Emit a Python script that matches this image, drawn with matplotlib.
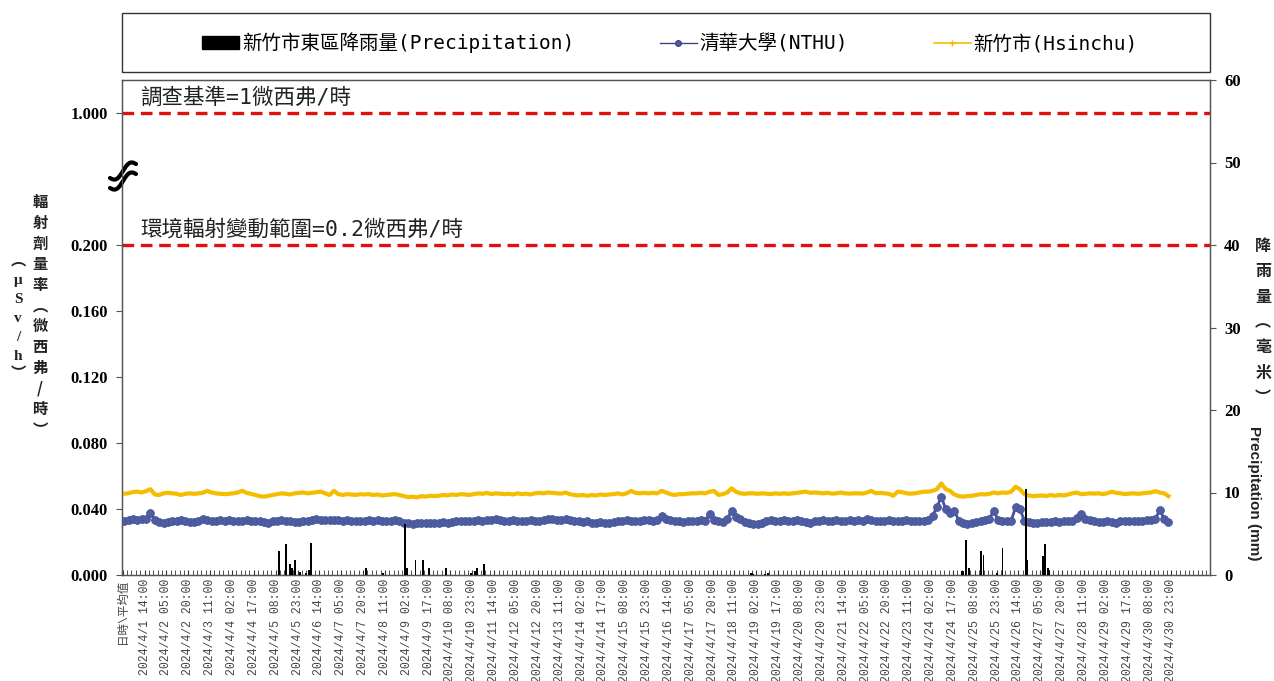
import numpy as np
import matplotlib
matplotlib.use("Agg")
import matplotlib.pyplot as plt
from matplotlib.lines import Line2D
from matplotlib.patches import Patch, Rectangle, Polygon

plt.rcParams['font.family'] = ['Noto Sans CJK TC', 'DejaVu Sans']

# ---- data ----
# dose rate every 3 hours from 2024/4/1 00:00, in 0.001 uSv/h, one row per day
nthu_milli = [
    33.0, 33.3, 34.0, 33.5, 33.8, 34.2, 37.5, 33.5,
    32.0, 31.8, 32.2, 32.8, 33.0, 33.3, 32.6, 32.2,
    32.0, 33.0, 33.8, 33.3, 33.0, 32.8, 33.2, 33.0,
    33.5, 33.0, 32.6, 33.0, 33.4, 33.0, 32.5, 32.8,
    32.2, 31.8, 32.5, 33.0, 33.5, 33.0, 32.6, 32.2,
    32.0, 32.5, 33.0, 33.5, 33.8, 33.2, 33.6, 33.3,
    33.5, 33.2, 33.0, 33.4, 33.0, 32.6, 33.0, 32.8,
    33.2, 32.8, 33.3, 33.0, 32.6, 33.0, 33.2, 32.5,
    31.8, 31.5, 31.2, 31.6, 31.4, 31.8, 31.5, 31.3,
    31.6, 32.0, 31.8, 32.2, 32.6, 32.8, 32.5, 32.8,
    33.0, 33.3, 33.0, 33.2, 33.6, 33.8, 33.5, 33.0,
    32.8, 33.3, 33.0, 32.6, 33.0, 33.3, 32.8, 33.0,
    33.5, 33.8, 33.7, 33.6, 33.6, 33.7, 33.3, 32.5,
    32.5, 32.2, 32.8, 31.8, 31.5, 32.0, 31.6, 31.8,
    32.0, 32.5, 33.0, 33.3, 33.0, 32.8, 33.0, 33.3,
    33.2, 33.0, 33.5, 35.8, 34.0, 33.3, 32.8, 32.6,
    32.2, 32.6, 33.0, 32.8, 33.3, 33.0, 37.2, 33.3,
    32.5, 32.0, 34.0, 38.8, 35.0, 34.0, 32.0, 31.5,
    31.2, 31.0, 31.5, 33.0, 33.3, 33.0, 32.8, 33.3,
    33.0, 32.6, 33.2, 33.0, 32.0, 31.8, 32.5, 33.0,
    33.3, 33.0, 32.8, 33.2, 32.6, 33.0, 33.3, 33.0,
    33.2, 33.0, 34.0, 33.5, 33.0, 32.6, 33.0, 33.3,
    33.0, 32.6, 33.0, 33.3, 32.8, 32.6, 33.0, 32.6,
    33.5, 36.0, 41.0, 47.5, 40.0, 37.5, 39.0, 33.0,
    31.5, 31.2, 31.5, 32.0, 32.6, 33.3, 34.0, 39.0,
    33.3, 32.8, 32.6, 33.0, 41.0, 40.0, 33.0, 32.0,
    31.8, 31.6, 32.0, 32.2, 32.0, 32.5, 32.2, 32.6,
    32.5, 33.0, 34.5, 37.2, 34.0, 33.3, 32.6, 32.2,
    32.0, 32.5, 32.2, 31.8, 32.6, 33.0, 32.6, 33.0,
    32.8, 33.0, 33.3, 33.6, 34.0, 39.5, 34.0, 32.0,
]
hsinchu_milli = [
    49.3, 49.5, 50.3, 50.5, 50.0, 50.8, 52.0, 48.8,
    48.5, 49.5, 49.8, 49.5, 49.2, 48.5, 49.2, 49.5,
    49.2, 49.5, 49.8, 51.0, 50.0, 49.5, 49.2, 49.0,
    49.2, 49.5, 50.0, 51.0, 49.8, 49.2, 48.5, 47.8,
    47.5, 48.0, 48.5, 49.0, 49.5, 49.2, 48.8, 49.5,
    49.8, 50.0, 49.5, 49.8, 50.2, 50.5, 49.5, 48.5,
    51.0, 49.0, 48.5, 49.0, 48.8, 48.5, 49.0, 48.8,
    49.0, 48.5, 48.8, 48.2, 48.5, 48.8, 49.0, 48.5,
    47.8, 47.2, 47.5, 47.0, 47.8, 47.5, 48.0, 47.8,
    48.0, 48.5, 48.2, 48.8, 48.5, 49.0, 48.8, 48.5,
    49.0, 49.5, 49.2, 49.8, 49.0, 49.5, 49.3, 49.0,
    49.2, 48.8, 49.5, 49.0, 49.3, 48.8, 49.5, 49.8,
    49.5, 50.0, 49.8, 49.5, 49.3, 50.0, 49.0, 48.5,
    48.2, 48.5, 48.0, 48.5, 48.2, 48.8, 48.5, 48.8,
    49.0, 49.5, 48.8, 49.5, 51.0, 49.8, 49.5, 49.8,
    49.5, 49.8, 49.5, 51.0, 50.0, 49.0, 48.5, 49.0,
    49.0, 49.3, 49.5, 49.5, 49.8, 49.5, 50.5, 51.0,
    48.5, 49.0, 50.0, 52.5, 50.5, 49.5, 49.2, 49.5,
    49.5, 49.2, 49.5, 49.3, 49.0, 49.5, 49.2, 49.5,
    49.2, 49.5, 49.8, 50.2, 50.5, 49.8, 50.0, 49.8,
    49.5, 49.8, 49.3, 49.5, 50.0, 49.5, 49.3, 49.5,
    49.5, 49.3, 50.0, 51.0, 49.5, 49.8, 49.5, 49.2,
    48.0, 50.5, 50.2, 49.5, 49.3, 49.5, 50.0, 50.5,
    50.5, 51.0, 52.0, 55.5, 52.0, 51.0, 48.8, 47.8,
    47.5, 47.8, 48.0, 48.5, 49.0, 48.8, 49.2, 50.0,
    49.5, 50.0, 49.8, 50.5, 53.5, 52.0, 49.0, 48.2,
    47.8, 48.0, 48.2, 47.8, 48.5, 48.0, 48.5, 48.2,
    48.8, 49.5, 50.0, 49.0, 49.2, 49.5, 49.3, 49.5,
    49.0, 49.5, 50.5, 49.8, 49.5, 49.0, 49.3, 49.5,
    49.2, 49.5, 49.8, 50.0, 50.8, 50.0, 49.5, 47.8,
]
# hourly rainfall (hours counted from 2024/4/1 00:00), mm
rain_hour = [106, 111, 114, 115, 117, 121, 125, 127, 128, 166, 178, 193, 194,
             200, 205, 209, 221, 238, 241, 242, 247, 430, 431, 432, 440, 442,
             575, 576, 578, 580, 588, 590, 599, 603, 619, 620, 631, 632, 634, 635]
rain_mm = [2.9, 3.8, 1.3, 0.9, 1.8, 0.4, 0.3, 0.6, 3.9, 0.8, 0.2, 6.2, 0.8,
           1.8, 1.8, 0.8, 0.8, 0.3, 0.5, 0.8, 1.3, 0.2, 0.2, 0.1, 0.1, 0.2,
           0.5, 0.5, 4.3, 0.8, 2.9, 2.4, 0.3, 3.3, 10.4, 1.8, 2.3, 3.8, 0.8, 0.6]

x_labels = ["日時\\平均值",
            "2024/4/1 14:00", "2024/4/2 05:00", "2024/4/2 20:00", "2024/4/3 11:00",
            "2024/4/4 02:00", "2024/4/4 17:00", "2024/4/5 08:00", "2024/4/5 23:00",
            "2024/4/6 14:00", "2024/4/7 05:00", "2024/4/7 20:00", "2024/4/8 11:00",
            "2024/4/9 02:00", "2024/4/9 17:00", "2024/4/10 08:00", "2024/4/10 23:00",
            "2024/4/11 14:00", "2024/4/12 05:00", "2024/4/12 20:00", "2024/4/13 11:00",
            "2024/4/14 02:00", "2024/4/14 17:00", "2024/4/15 08:00", "2024/4/15 23:00",
            "2024/4/16 14:00", "2024/4/17 05:00", "2024/4/17 20:00", "2024/4/18 11:00",
            "2024/4/19 02:00", "2024/4/19 17:00", "2024/4/20 08:00", "2024/4/20 23:00",
            "2024/4/21 14:00", "2024/4/22 05:00", "2024/4/22 20:00", "2024/4/23 11:00",
            "2024/4/24 02:00", "2024/4/24 17:00", "2024/4/25 08:00", "2024/4/25 23:00",
            "2024/4/26 14:00", "2024/4/27 05:00", "2024/4/27 20:00", "2024/4/28 11:00",
            "2024/4/29 02:00", "2024/4/29 17:00", "2024/4/30 08:00", "2024/4/30 23:00"]

y_ticks = [0.0, 0.04, 0.08, 0.12, 0.16, 0.20, 0.28]
y_ticklabels = ["0.000", "0.040", "0.080", "0.120", "0.160", "0.200", "1.000"]
line_survey = 0.28      # drawn position of the "1 uSv/h" line (axis is broken)
line_range = 0.20

MONO_CJK = ['DejaVu Sans Mono', 'Noto Sans CJK TC']

# ---- figure ----
W, H = 1274, 681
fig = plt.figure(figsize=(W / 100, H / 100), dpi=100)
ax = fig.add_axes([122 / W, 106 / H, 1088 / W, 495 / H])

n_cat = 747
pos3 = np.arange(0, 720, 3) + 1        # category index of each 3-hour sample
nthu = np.array(nthu_milli) / 1000
hsinchu = np.array(hsinchu_milli) / 1000

ax.plot(pos3, hsinchu, color='#F5BD00', lw=3.0, zorder=3)
ax.plot(pos3, nthu, color='#45539A', lw=2.0, marker='o', ms=5.6,
        mfc='#4F5EA2', mec='#45539A', mew=0.6, zorder=4)

ax.axhline(line_survey, color='#E01010', lw=2.4, ls=(0, (3.5, 2)), zorder=2)
ax.axhline(line_range, color='#E01010', lw=2.4, ls=(0, (3.5, 2)), zorder=2)

ax.text(12, line_survey + 0.003, "調查基準=1微西弗/時", fontsize=15.5,
        color='#222222', va='bottom', ha='left', family=MONO_CJK)
ax.text(12, line_range + 0.003, "環境輻射變動範圍=0.2微西弗/時", fontsize=15.5,
        color='#222222', va='bottom', ha='left', family=MONO_CJK)

ax.set_xlim(-0.5, n_cat - 0.5)
ax.set_ylim(0, 0.30)
ax.set_yticks(y_ticks)
ax.set_yticklabels(y_ticklabels, family=['Liberation Serif'], fontweight='bold',
                   fontsize=12)
ax.tick_params(axis='y', direction='out', length=4, color='#555555', pad=6)

ax.set_xticks(np.arange(0, 721, 15))
ax.set_xticklabels(x_labels, rotation=90, fontsize=8.3, color='#444444',
                   family=['Liberation Mono', 'Noto Sans CJK TC'])
ax.set_xticks(np.arange(0, n_cat, 3), minor=True)
ax.tick_params(axis='x', which='both', direction='in', length=3.5, color='#333333',
               pad=3)
for s in ax.spines.values():
    s.set_color('#555555')
    s.set_linewidth(1.0)

# rainfall on the right axis
ax2 = ax.twinx()
ax2.bar(np.array(rain_hour) + 1, rain_mm, width=1.3, color='black', zorder=5)
ax2.set_ylim(0, 60 * 495 / 497)
ax2.set_yticks(range(0, 61, 10))
ax2.set_yticklabels([str(v) for v in range(0, 61, 10)], family=['Liberation Serif'],
                    fontweight='bold', fontsize=12)
ax2.tick_params(axis='y', direction='out', length=4, color='#555555', pad=6)
ax2.set_xlim(-0.5, n_cat - 0.5)
for s in ax2.spines.values():
    s.set_color('#555555')

# axis break mark on the left spine
def px(xp, yp):
    return ((np.asarray(xp) - 122) / 1088, (575 - np.asarray(yp)) / 495)

s = np.linspace(0, 1, 40)
cx = 110 + 26 * s
cy = 178 - 14 * s + 4.5 * np.sin(2 * np.pi * s)
x1, y1 = px(cx, cy)
x2, y2 = px(cx, cy + 10)
band = np.column_stack([np.concatenate([x1, x2[::-1]]),
                        np.concatenate([y1, y2[::-1]])])
ax.add_patch(Polygon(band, closed=True, transform=ax.transAxes, facecolor='white',
                     edgecolor='none', clip_on=False, zorder=6))
ax.plot(x1, y1, color='black', lw=3.0, transform=ax.transAxes, clip_on=False, zorder=7,
        solid_capstyle='round')
ax.plot(x2, y2, color='black', lw=3.0, transform=ax.transAxes, clip_on=False, zorder=7,
        solid_capstyle='round')

# axis titles (vertical stacked characters)
fig.text(40 / W, 1 - 316 / H, "\n".join("輻射劑量率︵微西弗/時︶"), fontsize=11,
         fontweight='bold', ha='center', va='center', linespacing=1.36, color='#222222')
fig.text(18 / W, 1 - 318 / H, "\n".join(["︵", "μ", "S", "v", "/", "h", "︶"]),
         fontsize=11, fontweight='bold', ha='center', va='center', linespacing=1.6,
         color='#222222', family=['Liberation Serif', 'Noto Sans CJK TC'])
fig.text(1263 / W, 1 - 322 / H, "\n".join("降雨量︵毫米︶"), fontsize=11.5,
         fontweight='bold', ha='center', va='center', linespacing=1.72, color='#222222')
fig.text(1254 / W, 1 - 493 / H, "Precipitation (mm)", rotation=-90, fontsize=11,
         fontweight='bold', ha='center', va='center', family=['Liberation Sans'],
         color='#222222')

# legend box
fig.add_artist(Rectangle((122 / W, 1 - 72 / H), 1088 / W, 59 / H, transform=fig.transFigure,
                         facecolor='white', edgecolor='#333333', lw=1.0))
handles = [Patch(facecolor='black', edgecolor='black'),
           Line2D([], [], color='#3A4785', lw=1.0, marker='o', ms=4, mfc='#4F5EA2'),
           Line2D([], [], color='#F5BD00', lw=1.2, marker='+', ms=4)]
labels = ["新竹市東區降雨量(Precipitation)", "清華大學(NTHU)", "新竹市(Hsinchu)"]
fig.legend(handles, labels, loc='center', bbox_to_anchor=(670 / W, 1 - 43 / H), ncol=3,
           frameon=False, prop={'family': MONO_CJK, 'size': 14}, columnspacing=4.4,
           handlelength=1.9, handletextpad=0.15, handleheight=0.6)

fig.savefig("out.png", dpi=100)
